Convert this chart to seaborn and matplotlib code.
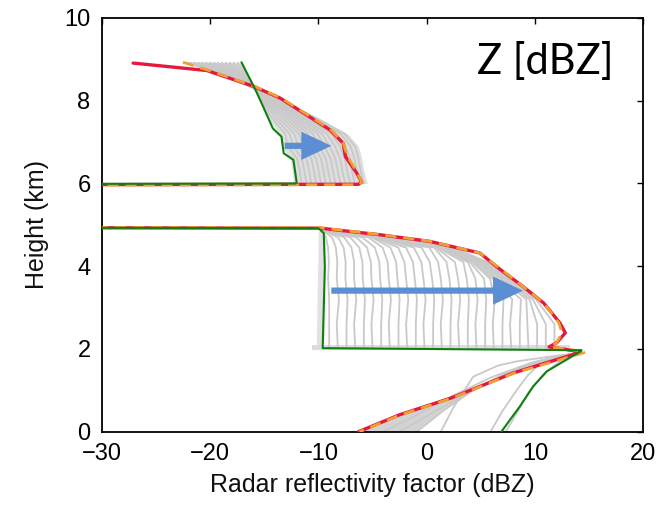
import numpy as np
import pandas as pd
import matplotlib
matplotlib.use("Agg")
import matplotlib.pyplot as plt
import seaborn as sns

# ---------------- data ----------------
x_ticks = [-30, -20, -10, 0, 10, 20]
y_ticks = [0, 2, 4, 6, 8, 10]

# final profile (red)
red_h = [8.91, 8.73, 8.35, 8.06, 7.29, 6.97, 6.65, 6.25, 6.03, 5.98, 5.97, 4.93, 4.92, 4.76, 4.60,
         4.32, 3.92, 3.51, 3.11, 2.63, 2.39, 2.15, 2.05, 2.00, 1.94, 1.88, 1.42, 0.81, 0.41, 0.00]
red_x = [-27.1, -20.3, -16.0, -13.5, -8.9, -7.7, -7.5, -6.45, -6.0, -6.3, -35, -35, -9.8, -4.3, 0.3,
         4.9, 6.8, 8.9, 10.8, 12.3, 12.8, 12.0, 11.3, 12.6, 13.9, 13.7, 8.0, 2.2, -2.5, -6.3]

# second profile (orange dashed)
orange_h = [8.93, 8.73, 8.35, 8.06, 7.29, 6.97, 6.65, 6.25, 6.03, 5.97, 5.96, 4.94, 4.93, 4.76, 4.60,
            4.32, 3.92, 3.51, 3.11, 2.63, 2.39, 2.15, 2.05, 1.93, 1.90, 1.42, 0.81, 0.41, 0.00]
orange_x = [-22.5, -20.1, -15.9, -13.4, -8.8, -7.7, -7.3, -6.4, -6.0, -6.2, -35, -35, -9.8, -4.2, 0.4,
            4.9, 6.9, 8.9, 10.8, 12.2, 12.5, 12.0, 11.4, 14.8, 14.4, 8.1, 2.3, -2.4, -6.2]

# initial profile (green)
green_h = [8.93, 8.26, 7.86, 7.33, 7.13, 6.73, 6.57, 6.02, 6.00, 5.99, 4.93, 4.92, 4.80, 3.99, 2.02,
           1.97, 1.94, 1.74, 1.46, 1.10, 0.61, 0.29, 0.00]
green_x = [-17.1, -15.8, -15.1, -14.2, -13.4, -13.2, -12.3, -12.0, -12.1, -35, -35, -10.0, -9.5, -9.4, -9.6,
           14.3, 14.2, 12.9, 11.1, 9.85, 8.6, 7.7, 6.9]

# intermediate profiles, upper layer (grey)
upper_h = [6.0, 6.3, 6.6, 6.9, 7.2, 7.6, 8.0, 8.4, 8.7, 8.92]
upper_members = [
    [-11.55, -11.71, -11.96, -12.82, -13.07, -14.34, -15.16, -16.15, -16.82, -17.46],
    [-11.10, -11.28, -11.52, -12.33, -12.65, -14.03, -15.02, -16.20, -17.05, -17.83],
    [-10.66, -10.84, -11.08, -11.85, -12.22, -13.72, -14.88, -16.25, -17.27, -18.19],
    [-10.21, -10.40, -10.64, -11.37, -11.79, -13.40, -14.74, -16.30, -17.50, -18.56],
    [-9.76, -9.96, -10.20, -10.89, -11.37, -13.09, -14.60, -16.35, -17.72, -18.92],
    [-9.31, -9.53, -9.75, -10.40, -10.94, -12.78, -14.46, -16.39, -17.94, -19.28],
    [-8.86, -9.09, -9.31, -9.92, -10.51, -12.47, -14.32, -16.44, -18.17, -19.65],
    [-8.42, -8.65, -8.87, -9.44, -10.08, -12.16, -14.18, -16.49, -18.39, -20.01],
    [-7.97, -8.21, -8.43, -8.95, -9.66, -11.85, -14.04, -16.54, -18.62, -20.38],
    [-7.52, -7.78, -7.99, -8.47, -9.23, -11.54, -13.90, -16.59, -18.84, -20.74],
    [-7.07, -7.34, -7.55, -7.99, -8.80, -11.22, -13.76, -16.64, -19.06, -21.10],
    [-6.62, -6.90, -7.11, -7.50, -8.38, -10.91, -13.62, -16.69, -19.29, -21.47],
    [-6.18, -6.46, -6.67, -7.02, -7.95, -10.60, -13.48, -16.74, -19.51, -21.83],
    [-5.79, -6.09, -6.29, -6.61, -7.58, -10.33, -13.36, -16.78, -19.70, -22.14],
]
upper_env_left = [-12.3, -12.4, -12.6, -13.4, -13.6, -14.7, -15.4, -16.2, -16.7, -17.0]
upper_env_right = [-5.5, -5.8, -6.0, -6.3, -7.3, -10.1, -13.3, -16.8, -19.8, -22.4]

# intermediate profiles, middle layer (grey)
mid_h = [2.02, 2.6, 3.2, 3.7, 4.1, 4.45, 4.7, 4.88]
mid_members = [
    [11.8, 11.8, 10.1, 7.6, 5.6, 2.5, -2.9, -8.70],
    [11.0, 11.0, 9.8, 7.35, 5.4, 2.35, -3.0, -8.74],
    [10.2, 10.2, 9.5, 7.1, 5.2, 2.2, -3.14, -8.78],
    [9.4, 9.3, 9.2, 6.85, 5.0, 2.05, -3.26, -8.82],
    [8.6, 8.6, 8.7, 6.6, 4.8, 1.9, -3.38, -8.86],
    [7.8, 7.7, 7.9, 6.35, 4.6, 1.75, -3.5, -8.90],
    [7.0, 7.0, 7.1, 6.1, 4.4, 1.6, -3.62, -8.94],
    [6.2, 6.1, 6.3, 5.85, 4.2, 1.45, -3.74, -8.98],
    [5.4, 5.4, 5.5, 5.3, 4.0, 1.3, -3.86, -9.02],
    [4.6, 4.5, 4.7, 4.5, 3.8, 1.15, -3.98, -9.06],
    [3.8, 3.8, 3.9, 3.7, 3.39, 1.0, -4.1, -9.10],
    [3.0, 2.9, 3.1, 2.9, 2.61, 0.85, -4.22, -9.14],
    [2.2, 2.2, 2.3, 2.1, 1.83, 0.7, -4.34, -9.18],
    [1.4, 1.3, 1.5, 1.3, 1.06, 0.26, -4.46, -9.22],
    [0.6, 0.6, 0.7, 0.5, 0.28, -0.46, -4.58, -9.26],
    [-0.2, -0.3, -0.1, -0.3, -0.49, -1.18, -4.70, -9.30],
    [-1.0, -1.0, -0.9, -1.1, -1.27, -1.90, -4.82, -9.34],
    [-1.8, -1.9, -1.7, -1.9, -2.05, -2.62, -4.94, -9.38],
    [-2.6, -2.6, -2.5, -2.7, -2.82, -3.34, -5.06, -9.42],
    [-3.4, -3.5, -3.3, -3.5, -3.60, -4.06, -5.38, -9.46],
    [-4.2, -4.2, -4.1, -4.3, -4.37, -4.78, -5.94, -9.50],
    [-5.0, -5.1, -4.9, -5.1, -5.15, -5.50, -6.50, -9.54],
    [-5.8, -5.8, -5.7, -5.9, -5.93, -6.22, -7.06, -9.58],
    [-6.6, -6.7, -6.5, -6.7, -6.70, -6.94, -7.62, -9.62],
    [-7.4, -7.4, -7.3, -7.5, -7.48, -7.66, -8.18, -9.66],
    [-8.2, -8.3, -8.1, -8.3, -8.25, -8.38, -8.74, -9.70],
    [-9.0, -9.0, -9.0, -9.1, -9.03, -9.10, -9.30, -9.74],
]

# intermediate profiles, lowest layer (grey)
low_members_x = [
    [-0.9, 1.5, 4.3, 7.5, 10.5, 13.3],
    [-2.5, 0.5, 3.5, 7.0, 10.0, 13.2],
    [-4.0, -0.8, 2.5, 6.0, 9.8, 13.3],
    [1.3, 2.5, 4.3, 6.6, 8.3, 12.6],
    [5.9, 7.0, 8.3, 9.3, 10.2, 13.2],
    [7.3, 8.2, 9.4, 10.8, 12.4, 14.0],
]
low_members_h = [
    [0.0, 0.5, 1.0, 1.45, 1.72, 1.88],
    [0.0, 0.45, 0.9, 1.35, 1.65, 1.88],
    [0.0, 0.42, 0.88, 1.32, 1.68, 1.88],
    [0.0, 0.6, 1.33, 1.6, 1.70, 1.86],
    [0.0, 0.5, 1.0, 1.35, 1.58, 1.82],
    [0.0, 0.4, 0.95, 1.4, 1.72, 1.92],
]

# arrows (start x, end x, height)
arrow_top = (-13.1, -8.8, 6.91)
arrow_mid = (-8.8, 8.9, 3.41)

# ---------------- figure ----------------
sns.set_theme(style="white")
plt.rcParams["font.family"] = ["Liberation Sans", "DejaVu Sans"]
plt.rcParams["axes.unicode_minus"] = True

fig = plt.figure(figsize=(6.71, 5.05), dpi=100)
ax = fig.add_axes([0.1516, 0.1451, 0.8071, 0.8193])

GREY_LINE = "#c9c9c9"
GREY_FILL = "#dedede"

# grey shaded envelopes
ax.fill_betweenx(upper_h, upper_env_left, upper_env_right, color=GREY_FILL, lw=0, zorder=1)
low_poly_x = [-6.3, -2.5, 2.2, 8.0, 13.8, 10.5, 7.5, 4.3, 1.5, -0.9]
low_poly_h = [0.0, 0.41, 0.81, 1.42, 1.9, 1.72, 1.45, 1.0, 0.5, 0.0]
ax.fill(low_poly_x, low_poly_h, color="#d3d3d3", lw=0, zorder=1)
ax.fill_betweenx([2.0, 4.85], [-10.2, -10.0], [-9.5, -9.4], color="#e2e2e2", lw=0, zorder=1)
ax.fill_between([-10.6, 13.2], [1.98, 1.98], [2.1, 2.1], color="#dcdcdc", lw=0, zorder=1)

# grey member lines
rows = []
for i, xs in enumerate(upper_members):
    for xv, hv in zip(xs, upper_h):
        rows.append(("u%d" % i, xv, hv))
for i, xs in enumerate(mid_members):
    for xv, hv in zip(xs, mid_h):
        rows.append(("m%d" % i, xv, hv))
for i, (xs, hs) in enumerate(zip(low_members_x, low_members_h)):
    for xv, hv in zip(xs, hs):
        rows.append(("l%d" % i, xv, hv))
grey_df = pd.DataFrame(rows, columns=["member", "x", "h"])
sns.lineplot(data=grey_df, x="x", y="h", units="member", estimator=None, sort=False,
             color=GREY_LINE, lw=1.3, legend=False, ax=ax, zorder=2)

# main profiles
red_df = pd.DataFrame({"x": red_x, "h": red_h})
orange_df = pd.DataFrame({"x": orange_x, "h": orange_h})
green_df = pd.DataFrame({"x": green_x, "h": green_h})
sns.lineplot(data=red_df, x="x", y="h", sort=False, estimator=None, color="#e5193d",
             lw=2.4, ax=ax, zorder=3)
sns.lineplot(data=orange_df, x="x", y="h", sort=False, estimator=None, color="#f0a032",
             lw=2.0, linestyle=(0, (4.0, 2.5)), ax=ax, zorder=4)
sns.lineplot(data=green_df, x="x", y="h", sort=False, estimator=None, color="#0f800f",
             lw=1.5, ax=ax, zorder=5)

# arrows
ARROW_C = "#5b8ed2"
for (x0, x1, y0) in (arrow_top, arrow_mid):
    ax.arrow(x0, y0, x1 - x0, 0, width=0.15, head_width=0.68, head_length=2.77,
             length_includes_head=True, color=ARROW_C, lw=0, zorder=6)

# axes
ax.set_xlim(-30, 20)
ax.set_ylim(0, 10)
ax.set_xticks(x_ticks)
ax.set_yticks(y_ticks)
ax.tick_params(direction="in", length=4.5, width=1.0, top=True, right=True,
               labelsize=17, pad=8, colors="black")
for sp in ax.spines.values():
    sp.set_visible(True)
    sp.set_color("black")
    sp.set_linewidth(1.3)
ax.set_xlabel("Radar reflectivity factor (dBZ)", fontsize=18, labelpad=6, color="#111111")
ax.set_ylabel("Height (km)", fontsize=18, labelpad=11, color="#111111")

ax.text(0.8185, 0.894, "Z [dBZ]", transform=ax.transAxes, ha="center", va="center",
        fontsize=30, family=["Lato", "DejaVu Sans"], color="black", zorder=7)

fig.savefig("out.png", dpi=100)
